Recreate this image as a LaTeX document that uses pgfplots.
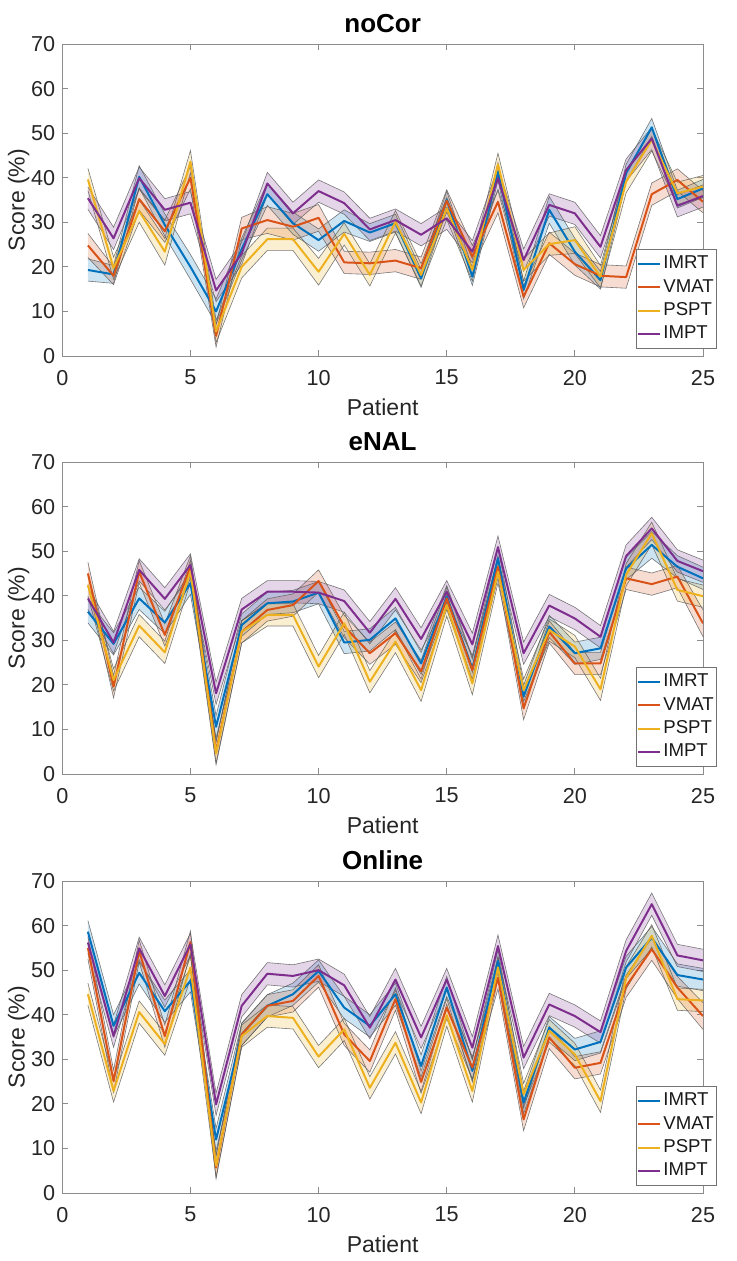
\documentclass[border=0pt]{standalone}
\usepackage{fontspec}
\setmainfont{Liberation Sans}
\usepackage{pgfplots}
\usepackage{pgfplotstable}
\pgfplotsset{compat=1.18}
\usepgfplotslibrary{fillbetween}

\definecolor{cA}{rgb}{0,0.447,0.741}
\definecolor{cB}{rgb}{0.85,0.325,0.098}
\definecolor{cC}{rgb}{0.929,0.694,0.125}
\definecolor{cD}{rgb}{0.494,0.184,0.556}

% a = IMRT, b = VMAT, c = PSPT, d = IMPT ; e columns = half width of band
\pgfplotstableread{
p  a    ae   b    be   c    ce   d    de
1  19.3 2.5  24.8 2.7  39.6 2.5  35.4 2.5
2  18.3 2.0  18.0 2.0  19.7 2.5  26.4 2.5
3  40.2 2.5  35.2 2.5  32.5 2.5  39.9 2.5
4  29.4 2.5  28.0 2.5  23.4 3.0  32.8 2.5
5  20.0 2.8  40.0 2.5  43.6 2.5  34.4 2.5
6  10.0 2.8  4.5  2.5  5.5  2.5  14.7 2.5
7  24.0 2.5  28.6 2.5  20.0 2.5  23.0 2.5
8  36.3 2.5  30.5 3.0  26.2 2.5  38.7 2.5
9  29.8 2.5  29.0 3.0  26.2 2.5  32.0 2.5
10 26.0 2.5  31.0 3.0  18.9 3.0  37.0 2.5
11 30.3 2.5  21.0 2.5  27.4 2.5  34.3 2.5
12 27.7 2.0  20.8 2.5  18.2 2.5  28.4 2.5
13 29.8 2.0  21.4 2.5  30.1 2.5  30.5 2.5
14 17.4 2.0  19.7 2.5  18.2 2.5  27.2 2.5
15 35.0 2.0  34.8 2.5  33.1 2.5  30.9 2.5
16 17.8 2.0  22.3 2.5  19.3 2.5  23.4 2.5
17 41.4 2.0  34.6 2.5  43.0 2.5  39.9 2.5
18 14.8 2.0  13.3 2.5  19.3 2.5  21.5 2.5
19 32.8 3.0  25.3 2.5  25.1 2.5  33.9 2.5
20 23.4 3.0  20.6 2.5  26.0 3.0  32.0 2.5
21 17.0 2.0  18.0 2.5  17.8 2.5  24.5 2.5
22 41.0 2.0  17.7 2.5  39.1 2.5  41.7 2.5
23 51.3 2.0  36.3 2.5  48.5 2.5  48.8 2.5
24 35.2 2.0  39.5 2.5  36.5 2.5  33.7 2.5
25 37.6 2.0  34.6 2.5  38.0 2.5  35.9 2.5
}\tabNoCor

\pgfplotstableread{
p  a    ae   b    be   c    ce   d    de
1  36.4 2.5  45.0 2.5  42.4 2.5  39.4 2.5
2  29.2 2.5  19.6 2.5  21.1 2.5  29.5 2.5
3  39.4 2.5  45.4 2.5  33.3 2.5  45.8 2.5
4  34.0 2.5  31.2 2.5  27.3 2.5  39.3 2.5
5  42.8 2.5  46.5 2.5  45.5 2.5  46.9 2.5
6  10.6 2.5  5.0  2.5  4.6  2.5  18.1 2.5
7  33.4 2.5  31.9 2.5  31.9 2.5  36.9 2.5
8  38.3 2.5  36.8 2.5  35.7 2.5  40.9 2.5
9  38.7 2.5  37.9 2.5  35.7 2.5  40.9 2.5
10 40.7 2.5  43.3 2.5  24.1 2.5  40.7 2.5
11 29.5 2.5  33.1 2.5  33.8 2.5  38.8 2.5
12 30.1 2.5  27.1 2.5  20.7 2.5  31.7 2.5
13 34.9 2.5  31.6 2.5  29.7 2.5  39.3 2.5
14 24.8 2.5  23.0 2.5  18.8 2.5  30.3 2.5
15 39.8 2.5  39.4 2.5  37.9 2.5  40.9 2.5
16 23.7 2.5  23.3 2.5  20.3 2.5  29.1 2.5
17 48.4 2.5  46.5 2.5  45.4 2.5  50.9 2.5
18 17.4 2.5  14.7 2.5  18.8 2.5  27.1 2.5
19 33.1 2.5  31.9 2.5  32.3 2.5  37.8 2.5
20 27.1 2.5  24.8 2.5  28.6 2.5  34.9 2.5
21 28.2 2.5  24.8 2.5  19.0 2.5  30.8 2.5
22 46.1 2.5  43.9 2.5  44.7 2.5  48.9 2.5
23 51.4 3.0  42.6 2.5  54.0 2.5  55.1 2.5
24 46.5 2.5  44.3 2.5  41.3 2.5  47.8 2.5
25 43.9 2.5  33.8 3.0  39.9 2.5  45.5 2.5
}\tabENAL

\pgfplotstableread{
p  a    ae   b    be   c    ce   d    de
1  58.6 2.5  55.0 2.5  44.6 2.5  56.2 2.5
2  37.5 2.5  25.1 2.5  22.9 2.5  35.2 2.5
3  49.4 2.5  54.3 2.5  40.6 2.5  54.9 2.5
4  40.8 2.5  35.2 2.5  33.4 2.5  44.2 2.5
5  47.6 2.5  56.3 2.5  50.6 2.5  55.8 2.5
6  12.0 2.5  5.7  2.5  6.1  2.5  19.9 2.5
7  35.6 2.5  35.6 2.5  35.2 2.5  42.0 2.5
8  42.0 2.5  42.0 2.5  39.7 2.5  49.2 2.5
9  44.6 2.5  43.1 2.5  39.3 2.5  48.7 2.5
10 49.8 2.5  48.7 2.5  30.6 2.5  50.0 2.5
11 41.6 2.5  35.6 2.5  36.7 2.5  46.6 2.5
12 37.5 2.5  29.6 2.5  23.6 2.5  37.1 2.5
13 44.6 2.5  43.5 2.5  33.7 2.5  47.9 2.5
14 28.5 2.5  24.9 2.5  20.3 2.5  34.9 2.5
15 46.1 2.5  41.6 2.5  39.9 2.5  47.9 2.5
16 27.4 2.5  28.1 2.5  22.9 2.5  32.6 2.5
17 52.1 2.5  48.3 2.5  50.6 2.5  55.4 2.5
18 20.3 2.5  16.5 2.5  22.1 2.5  30.4 2.5
19 37.1 2.5  34.9 2.5  36.4 2.5  42.3 2.5
20 32.2 2.5  28.1 2.5  31.1 2.5  39.7 2.5
21 33.9 2.5  29.2 2.5  20.6 2.5  36.1 2.5
22 50.6 2.5  46.4 2.5  48.3 2.5  54.3 2.5
23 57.3 2.5  54.7 2.5  57.7 2.5  64.8 2.5
24 48.9 2.5  46.1 2.5  43.5 2.5  53.3 2.5
25 47.9 2.5  39.7 3.0  43.2 2.5  52.2 2.5
}\tabOnline

\pgfplotsset{
  bandedge/.style={draw=black!65, line width=0.3pt, draw opacity=0.8},
  meanline/.style={line width=1pt, line join=round},
  panel/.style={
    scale only axis, width=320.35pt, height=156pt,
    xmin=0, xmax=25, ymin=0, ymax=70,
    xtick={0,5,...,25}, ytick={0,10,...,70},
    tick align=inside, major tick length=3pt,
    axis line style={draw=black!45, line width=0.4pt},
    every tick/.style={draw=black!45, line width=0.4pt},
    tick label style={font=\fontsize{10.8}{12}\selectfont, text=black!85},
    xticklabel style={yshift=-3.5pt},
    /pgf/number format/assume math mode=true,
    xlabel={Patient}, ylabel={Score (\%)},
    ylabel shift=-6pt,
    label style={font=\fontsize{11.5}{13}\selectfont, text=black!85},
    title style={font=\fontsize{13}{15}\selectfont\bfseries, yshift=-3.8pt},
    legend style={at={(1.022,0.022)}, anchor=south east, draw=black!55,
      line width=0.4pt, fill=white, font=\fontsize{9.3}{11}\selectfont,
      text=black!90, inner xsep=0.5pt, inner ysep=1.5pt, row sep=-0.3pt,
      nodes={inner xsep=1pt}},
    legend cell align=left,
    legend image code/.code={\draw[##1, line width=1pt] (0pt,0pt) -- (11pt,0pt);},
  }
}

\newcommand{\band}[4]{%
  \addplot[name path=#4u, bandedge, forget plot] table[x=p, y expr=\thisrow{#2}+\thisrow{#2e}] {#1};
  \addplot[name path=#4l, bandedge, forget plot] table[x=p, y expr=\thisrow{#2}-\thisrow{#2e}] {#1};
  \addplot[fill=#3, fill opacity=0.2, draw=none, forget plot] fill between[of=#4u and #4l];
}
\newcommand{\allseries}[2]{%
  \band{#1}{a}{cA}{#2A}
  \band{#1}{b}{cB}{#2B}
  \band{#1}{c}{cC}{#2C}
  \band{#1}{d}{cD}{#2D}
  \addplot[cA, meanline] table[x=p, y=a] {#1};
  \addlegendentry{IMRT}
  \addplot[cB, meanline] table[x=p, y=b] {#1};
  \addlegendentry{VMAT}
  \addplot[cC, meanline] table[x=p, y=c] {#1};
  \addlegendentry{PSPT}
  \addplot[cD, meanline] table[x=p, y=d] {#1};
  \addlegendentry{IMPT}
}

\begin{document}
\begin{tikzpicture}
\begin{axis}[panel, at={(31.15pt,-178pt)}, anchor=south west, title={noCor}]
  \allseries{\tabNoCor}{P}
\end{axis}
\begin{axis}[panel, at={(31.15pt,-387pt)}, anchor=south west, title={eNAL}]
  \allseries{\tabENAL}{Q}
\end{axis}
\begin{axis}[panel, at={(31.15pt,-596.5pt)}, anchor=south west, title={Online}]
  \allseries{\tabOnline}{R}
\end{axis}
\pgfresetboundingbox
\path[use as bounding box] (0pt,0pt) rectangle (368pt,-630.5pt);
\end{tikzpicture}
\end{document}
